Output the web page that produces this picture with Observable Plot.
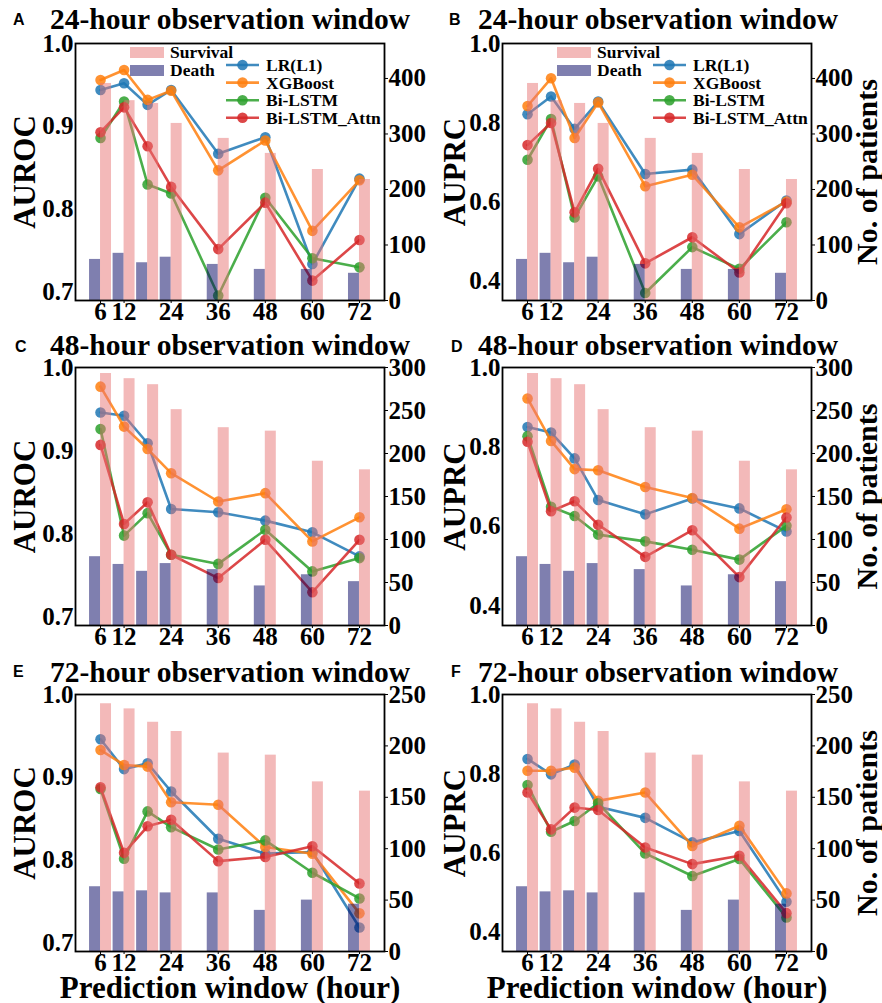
<!DOCTYPE html>
<html><head><meta charset="utf-8">
<script src="https://cdn.jsdelivr.net/npm/d3@7"></script>
<script src="https://cdn.jsdelivr.net/npm/@observablehq/plot@0.6"></script>
<style>
body{margin:0;background:#fff;}
#fig{position:relative;width:882px;height:1003px;overflow:hidden;background:#fff;}
.layer{position:absolute;}
.layer svg{display:block;}
</style></head><body><div id="fig"></div>
<script>
// ---------------- DATA ----------------
const hours = [6, 12, 18, 24, 36, 48, 60, 72];
const xTicks = [6, 12, 24, 36, 48, 60, 72];
const models = ["LR(L1)", "XGBoost", "Bi-LSTM", "Bi-LSTM_Attn"];
const barNames = ["Survival", "Death"];

// patients per prediction window
const survival24 = [391, 360, 355, 319, 292, 265, 236, 218];
const death24    = [74, 85, 68, 78, 65, 56, 56, 49];
const survival48 = [293, 287, 280, 251, 230, 226, 191, 181];
const death48    = [80, 71, 63, 72, 65, 46, 59, 51];
const survival72 = [241, 236, 223, 214, 193, 191, 165, 156];
const death72    = [63, 58, 59, 57, 57, 40, 50, 46];

// A: AUROC, 24-hour window
const aurocLR24     = [0.944, 0.952, 0.926, 0.944, 0.867, 0.887, 0.734, 0.837];
const aurocXGB24    = [0.956, 0.968, 0.932, 0.943, 0.847, 0.883, 0.774, 0.835];
const aurocLSTM24   = [0.886, 0.930, 0.830, 0.819, 0.696, 0.814, 0.741, 0.730];
const aurocAttn24   = [0.893, 0.923, 0.876, 0.827, 0.752, 0.808, 0.714, 0.763];
// B: AUPRC, 24-hour window
const auprcLR24     = [0.821, 0.866, 0.784, 0.853, 0.670, 0.681, 0.518, 0.603];
const auprcXGB24    = [0.842, 0.912, 0.761, 0.851, 0.639, 0.668, 0.535, 0.600];
const auprcLSTM24   = [0.706, 0.809, 0.560, 0.664, 0.369, 0.485, 0.430, 0.548];
const auprcAttn24   = [0.743, 0.799, 0.573, 0.683, 0.444, 0.510, 0.421, 0.596];
// C: AUROC, 48-hour window
const aurocLR48     = [0.946, 0.942, 0.909, 0.830, 0.826, 0.816, 0.802, 0.773];
const aurocXGB48    = [0.977, 0.929, 0.902, 0.873, 0.839, 0.849, 0.791, 0.820];
const aurocLSTM48   = [0.926, 0.798, 0.825, 0.775, 0.764, 0.805, 0.755, 0.771];
const aurocAttn48   = [0.907, 0.812, 0.838, 0.775, 0.747, 0.793, 0.730, 0.793];
// D: AUPRC, 48-hour window
const auprcLR48     = [0.850, 0.836, 0.771, 0.666, 0.630, 0.670, 0.645, 0.587];
const auprcXGB48    = [0.922, 0.815, 0.744, 0.741, 0.699, 0.671, 0.594, 0.643];
const auprcLSTM48   = [0.827, 0.649, 0.626, 0.579, 0.562, 0.541, 0.516, 0.601];
const auprcAttn48   = [0.813, 0.638, 0.663, 0.604, 0.523, 0.590, 0.472, 0.622];
// E: AUROC, 72-hour window
const aurocLR72     = [0.946, 0.910, 0.917, 0.883, 0.826, 0.808, 0.810, 0.719];
const aurocXGB72    = [0.933, 0.915, 0.913, 0.870, 0.867, 0.816, 0.808, 0.736];
const aurocLSTM72   = [0.886, 0.802, 0.859, 0.840, 0.813, 0.824, 0.785, 0.754];
const aurocAttn72   = [0.888, 0.809, 0.841, 0.849, 0.799, 0.804, 0.817, 0.772];
// F: AUPRC, 72-hour window
const auprcLR72     = [0.837, 0.798, 0.823, 0.716, 0.688, 0.626, 0.655, 0.476];
const auprcXGB72    = [0.807, 0.807, 0.815, 0.731, 0.752, 0.617, 0.668, 0.497];
const auprcLSTM72   = [0.771, 0.653, 0.680, 0.725, 0.598, 0.541, 0.584, 0.436];
const auprcAttn72   = [0.752, 0.659, 0.714, 0.708, 0.613, 0.571, 0.592, 0.447];

const aurocTicks = [0.7, 0.8, 0.9, 1.0];
const auprcTicks = [0.4, 0.6, 0.8, 1.0];
const patientTicks24 = [0, 100, 200, 300, 400];
const patientTicks48 = [0, 50, 100, 150, 200, 250, 300];
const patientTicks72 = [0, 50, 100, 150, 200, 250];

// ---------------- STYLE / LAYOUT ----------------
const serif = "'Liberation Serif','Times New Roman',serif";
const lineColors = ["#1f77b4", "#ff7f0e", "#2ca02c", "#d62728"];
const survColor = "#e87474", deathColor = "#000060";
const barW = 2.8;
const xDomain = [-0.38, 78.38];
const colX = [0, 441], rowY = [0, 330, 660], rowH = [330, 330, 343];
const frameTop = [43, 37, 34], frameBottom = [300, 295, 291];
const frameLeft = [75, 61], frameRight = [384, 370];
const titleX = [50, 37], titleBase = [29, 25, 22];
const letterX = [[13, 8], [15, 10], [13, 10]], letterBase = [25, 22, 17];

const panels = [
  {letter:"A", row:0, col:0, title:"24-hour observation window", metric:"AUROC", yDomain:[0.69,1.0], yTicks:aurocTicks,
   series:[aurocLR24, aurocXGB24, aurocLSTM24, aurocAttn24], surv:survival24, death:death24, pDomain:[0,463], pTicks:patientTicks24, legend:true},
  {letter:"B", row:0, col:1, title:"24-hour observation window", metric:"AUPRC", yDomain:[0.35,1.0], yTicks:auprcTicks,
   series:[auprcLR24, auprcXGB24, auprcLSTM24, auprcAttn24], surv:survival24, death:death24, pDomain:[0,463], pTicks:patientTicks24, legend:true},
  {letter:"C", row:1, col:0, title:"48-hour observation window", metric:"AUROC", yDomain:[0.69,1.0], yTicks:aurocTicks,
   series:[aurocLR48, aurocXGB48, aurocLSTM48, aurocAttn48], surv:survival48, death:death48, pDomain:[0,300], pTicks:patientTicks48},
  {letter:"D", row:1, col:1, title:"48-hour observation window", metric:"AUPRC", yDomain:[0.35,1.0], yTicks:auprcTicks,
   series:[auprcLR48, auprcXGB48, auprcLSTM48, auprcAttn48], surv:survival48, death:death48, pDomain:[0,300], pTicks:patientTicks48},
  {letter:"E", row:2, col:0, title:"72-hour observation window", metric:"AUROC", yDomain:[0.69,1.0], yTicks:aurocTicks,
   series:[aurocLR72, aurocXGB72, aurocLSTM72, aurocAttn72], surv:survival72, death:death72, pDomain:[0,250], pTicks:patientTicks72},
  {letter:"F", row:2, col:1, title:"72-hour observation window", metric:"AUPRC", yDomain:[0.35,1.0], yTicks:auprcTicks,
   series:[auprcLR72, auprcXGB72, auprcLSTM72, auprcAttn72], surv:survival72, death:death72, pDomain:[0,250], pTicks:patientTicks72}
];

const fig = document.getElementById("fig");
const baseStyle = {background:"transparent", fontFamily:serif, fontSize:"25px", fontWeight:"bold", color:"black", overflow:"visible"};

function addLayer(node, left, top) {
  d3.select(node).selectAll("text").style("font-family", serif).style("font-weight", "bold");
  const d = document.createElement("div");
  d.className = "layer";
  d.style.left = left + "px"; d.style.top = top + "px";
  d.appendChild(node);
  fig.appendChild(d);
}

for (const p of panels) {
  const H = rowH[p.row];
  const margins = {
    marginLeft: frameLeft[p.col],
    marginRight: 441 - frameRight[p.col],
    marginTop: frameTop[p.row],
    marginBottom: H - frameBottom[p.row]
  };
  const rows = models.map((m, i) => hours.map((h, j) => ({hour: h, value: p.series[i][j], model: m})));
  const lineMarks = [];
  rows.forEach((r, i) => {
    lineMarks.push(Plot.line(r, {x:"hour", y:"value", stroke: lineColors[i], strokeWidth: 2.6, strokeOpacity: 0.85}));
    lineMarks.push(Plot.dot(r, {x:"hour", y:"value", r: 5.3, fill: lineColors[i], fillOpacity: 0.85, stroke: "none"}));
  });
  const extra = [];
  if (p.row === 2) {
    extra.push(Plot.text(["Prediction window (hour)"], {frameAnchor:"bottom", dy: 46, lineAnchor:"bottom", textAnchor:"middle",
      fontSize: 31, fontWeight:"bold", fontFamily: serif, fill:"black"}));
  }
  const linesPlot = Plot.plot({
    width: 441, height: H, ...margins, style: baseStyle,
    x: {domain: xDomain, axis: null},
    y: {domain: p.yDomain, axis: null},
    marks: [
      ...lineMarks,
      Plot.axisY({ticks: p.yTicks, tickFormat: d3.format(".1f"), tickSize: 0, tickPadding: 2, label: null, fontFamily: serif}),
      Plot.axisX({ticks: xTicks, tickSize: 3, tickPadding: -1, label: null, tickFormat: d3.format("d"), fontFamily: serif}),
      Plot.text([p.metric], {frameAnchor:"left", dx: p.col === 0 ? -50 : -47, rotate: -90, lineAnchor:"middle", textAnchor:"middle",
        fontSize: 31, fontWeight:"bold", fontFamily: serif, fill:"black"}),
      ...extra
    ]
  });
  addLayer(linesPlot, colX[p.col], rowY[p.row]);

  const barData = hours.map((h, j) => ({hour: h, surv: p.surv[j], death: p.death[j]}));
  const rightLabel = [];
  if (p.col === 1) {
    rightLabel.push(Plot.text(["No. of patients"], {frameAnchor:"right", dx: 56, rotate: -90, lineAnchor:"middle", textAnchor:"middle",
      fontSize: 30, fontWeight:"bold", fontFamily: serif, fill:"black"}));
  }
  const barsPlot = Plot.plot({
    width: 441, height: H, ...margins, style: baseStyle,
    x: {domain: xDomain, axis: null},
    y: {domain: p.pDomain, axis: null},
    marks: [
      Plot.rectY(barData, {x1: d => d.hour - barW, x2: "hour", y: "death", fill: deathColor, fillOpacity: 0.5}),
      Plot.rectY(barData, {x1: "hour", x2: d => d.hour + barW, y: "surv", fill: survColor, fillOpacity: 0.5}),
      Plot.axisY({anchor:"right", ticks: p.pTicks, tickSize: 3, tickPadding: 1, label: null, tickFormat: d3.format("d"), fontFamily: serif}),
      Plot.frame({stroke:"black", strokeWidth: 1.8}),
      ...rightLabel
    ]
  });
  addLayer(barsPlot, colX[p.col], rowY[p.row]);
}

// ---------------- overlay: titles, letters, legends ----------------
const ov = d3.select(fig).append("svg")
  .attr("width", 882).attr("height", 1003)
  .style("position","absolute").style("left","0px").style("top","0px");

for (const p of panels) {
  const ox = colX[p.col], oy = rowY[p.row];
  ov.append("text").attr("x", ox + titleX[p.col]).attr("y", oy + titleBase[p.row])
    .attr("font-family", serif).attr("font-weight","bold").attr("font-size", 29.5)
    .text(p.title);
  ov.append("text").attr("x", ox + letterX[p.row][p.col]).attr("y", oy + letterBase[p.row])
    .attr("font-family", "'Liberation Sans',Arial,sans-serif").attr("font-weight","bold").attr("font-size", 16)
    .text(p.letter);
  if (p.legend) {
    const fl = ox + frameLeft[p.col];
    const g = ov.append("g").attr("font-family", serif).attr("font-weight","bold").attr("font-size", 17.5);
    [[survColor, 47], [deathColor, 65]].forEach(([c, y], i) => {
      g.append("rect").attr("x", fl + 55).attr("y", y).attr("width", 34).attr("height", 11).attr("fill", c).attr("fill-opacity", 0.5);
      g.append("text").attr("x", fl + 95).attr("y", y + 11).text(barNames[i]);
    });
    models.forEach((m, i) => {
      const y = 65 + i * 17.6;
      g.append("line").attr("x1", fl + 151).attr("x2", fl + 184).attr("y1", y).attr("y2", y)
        .attr("stroke", lineColors[i]).attr("stroke-width", 2.6).attr("stroke-opacity", 0.85);
      g.append("circle").attr("cx", fl + 167.5).attr("cy", y).attr("r", 5.3).attr("fill", lineColors[i]).attr("fill-opacity", 0.85);
      g.append("text").attr("x", fl + 191).attr("y", y + 6).text(m);
    });
  }
}
</script></body></html>
